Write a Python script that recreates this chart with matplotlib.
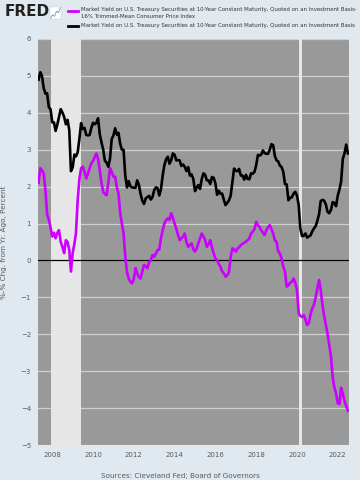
import matplotlib
matplotlib.use("Agg")
import matplotlib.pyplot as plt
import matplotlib.dates as mdates
import pandas as pd

# monthly, May 2007 - Jul 2022
start = "2007-05-01"

treasury_10y = [
    4.90, 5.10, 5.00, 4.67, 4.52, 4.53, 4.15, 4.10,
    3.74, 3.74, 3.51, 3.68, 3.88, 4.10, 4.01, 3.89, 3.69, 3.81, 3.53, 2.42,
    2.52, 2.87, 2.82, 2.93, 3.29, 3.72, 3.56, 3.59, 3.40, 3.39, 3.40, 3.59,
    3.73, 3.69, 3.73, 3.85, 3.42, 3.20, 3.01, 2.70, 2.65, 2.54, 2.76, 3.29,
    3.39, 3.58, 3.41, 3.46, 3.17, 3.00, 3.00, 2.30, 1.98, 2.15, 2.01, 1.98,
    1.97, 1.97, 2.17, 2.05, 1.80, 1.62, 1.53, 1.68, 1.72, 1.75, 1.65, 1.72,
    1.91, 1.98, 1.96, 1.76, 1.93, 2.30, 2.58, 2.74, 2.81, 2.62, 2.72, 2.90,
    2.86, 2.71, 2.72, 2.71, 2.56, 2.60, 2.54, 2.42, 2.53, 2.30, 2.33, 2.21,
    1.88, 1.98, 2.04, 1.94, 2.20, 2.36, 2.32, 2.17, 2.17, 2.07, 2.26, 2.24,
    2.09, 1.78, 1.89, 1.81, 1.81, 1.64, 1.50, 1.56, 1.63, 1.76, 2.14, 2.49,
    2.43, 2.42, 2.48, 2.30, 2.30, 2.19, 2.32, 2.21, 2.20, 2.36, 2.35, 2.40,
    2.58, 2.86, 2.84, 2.87, 2.98, 2.91, 2.89, 2.89, 3.00, 3.15, 3.12, 2.83,
    2.71, 2.68, 2.57, 2.53, 2.40, 2.07, 2.06, 1.63, 1.70, 1.71, 1.81, 1.86,
    1.76, 1.50, 0.87, 0.66, 0.67, 0.73, 0.62, 0.65, 0.68, 0.79, 0.87, 0.93,
    1.08, 1.26, 1.61, 1.64, 1.62, 1.52, 1.32, 1.28, 1.37, 1.58, 1.56, 1.47,
    1.76, 1.93, 2.13, 2.75, 2.90, 3.14, 2.90,
]

real_yield = [
    2.10, 2.50, 2.45, 2.35, 1.90, 1.25, 1.10, 0.90,
    0.65, 0.75, 0.60, 0.75, 0.82, 0.50, 0.37, 0.20, 0.55, 0.50, 0.28, -0.30,
    0.20, 0.45, 0.74, 1.64, 2.20, 2.50, 2.54, 2.40, 2.22, 2.35, 2.50, 2.63,
    2.70, 2.80, 2.90, 2.75, 2.45, 2.10, 1.86, 1.80, 1.77, 2.10, 2.50, 2.40,
    2.27, 2.27, 2.00, 1.82, 1.30, 1.00, 0.74, 0.10, -0.31, -0.49, -0.58, -0.62,
    -0.50, -0.21, -0.35, -0.45, -0.49, -0.30, -0.12, -0.15, -0.21, -0.05, 0.01, 0.15,
    0.10, 0.19, 0.28, 0.30, 0.60, 0.82, 1.00, 1.09, 1.14, 1.10, 1.28, 1.15,
    1.00, 0.85, 0.70, 0.55, 0.60, 0.65, 0.73, 0.50, 0.37, 0.42, 0.46, 0.30,
    0.24, 0.33, 0.46, 0.60, 0.73, 0.65, 0.55, 0.37, 0.45, 0.55, 0.35, 0.19,
    0.05, 0.01, -0.10, -0.17, -0.30, -0.35, -0.44, -0.40, -0.31, 0.10, 0.33, 0.30,
    0.24, 0.33, 0.35, 0.42, 0.45, 0.48, 0.51, 0.55, 0.60, 0.73, 0.78, 0.85,
    1.05, 0.95, 0.91, 0.82, 0.75, 0.69, 0.82, 0.90, 0.96, 0.85, 0.73, 0.55,
    0.50, 0.24, 0.19, 0.05, -0.17, -0.31, -0.71, -0.67, -0.60, -0.58, -0.49, -0.60,
    -0.80, -1.43, -1.50, -1.53, -1.48, -1.60, -1.75, -1.70, -1.45, -1.30, -1.20, -1.00,
    -0.75, -0.53, -0.80, -1.20, -1.50, -1.75, -1.98, -2.30, -2.60, -3.15, -3.45, -3.60,
    -3.87, -3.89, -3.45, -3.60, -3.80, -3.95, -4.07,
]

recessions = [("2007-12-01", "2009-06-01"), ("2020-02-01", "2020-04-01")]

label_real = ("Market Yield on U.S. Treasury Securities at 10-Year Constant Maturity, "
              "Quoted on an Investment Basis-\n16% Trimmed-Mean Consumer Price Index")
label_10y = ("Market Yield on U.S. Treasury Securities at 10-Year Constant Maturity, "
             "Quoted on an Investment Basis")

dates = pd.date_range(start, periods=len(treasury_10y), freq="MS")

bg = "#e1e9f0"
purple = "#cc00ff"

fig = plt.figure(figsize=(3.6, 4.8), dpi=100, facecolor=bg)
ax = fig.add_axes([38 / 360, 1 - 445 / 480, 311 / 360, 406 / 480])
ax.set_facecolor("#999999")

for a, b in recessions:
    ax.axvspan(pd.Timestamp(a), pd.Timestamp(b), color="#e6e6e6", lw=0, zorder=1)

ax.set_ylim(-5, 6)
ax.set_yticks(range(-5, 7))
ax.grid(axis="y", color="#d0d0d0", lw=0.9, zorder=2)
ax.set_axisbelow(True)
ax.axhline(0, color="black", lw=0.9, zorder=3)

ax.plot(dates, real_yield, color=purple, lw=1.9, zorder=4, solid_joinstyle="round")
ax.plot(dates, treasury_10y, color="black", lw=1.9, zorder=5, solid_joinstyle="round")

ax.set_xlim(dates[0] - pd.Timedelta(days=10), dates[-1] + pd.Timedelta(days=20))
ax.xaxis.set_major_locator(mdates.YearLocator(2))
ax.xaxis.set_major_formatter(mdates.DateFormatter("%Y"))

for s in ax.spines.values():
    s.set_visible(False)
ax.tick_params(length=0, labelsize=5, labelcolor="#595959", pad=5)
ax.set_ylabel("%-% Chg. from Yr. Ago, Percent", fontsize=5.2, color="#595959", labelpad=10)

# header
fig.text(5 / 360, 1 - 12 / 480, "FRED", fontsize=11, fontweight="heavy", color="#222222",
         va="center", ha="left")
icon = fig.add_axes([50 / 360, 1 - 19 / 480, 11 / 360, 12 / 480])
icon.set_facecolor("#ffffff")
icon.plot([0, 1, 2, 3, 4, 5], [1, 2, 1.6, 3, 2.6, 4], color="#6a9bc3", lw=0.6)
icon.set_xticks([])
icon.set_yticks([])
for s in icon.spines.values():
    s.set_color("#cccccc")
    s.set_linewidth(0.3)

lx = 68 / 360
fig.lines.append(plt.Line2D([lx, lx + 10 / 360], [1 - 11 / 480] * 2, color=purple, lw=2,
                            transform=fig.transFigure))
fig.lines.append(plt.Line2D([lx, lx + 10 / 360], [1 - 25.5 / 480] * 2, color="black", lw=2,
                            transform=fig.transFigure))
fig.text(81 / 360, 1 - 7.5 / 480, label_real, fontsize=3.9, color="#333333", va="top",
         ha="left", linespacing=1.3)
fig.text(81 / 360, 1 - 25.5 / 480, label_10y, fontsize=3.9, color="#333333", va="center",
         ha="left")

fig.text(0.5, 1 - 476 / 480, "Sources: Cleveland Fed; Board of Governors", fontsize=5.2,
         color="#595959", ha="center", va="center")

fig.savefig("out.png", dpi=100, facecolor=bg)
